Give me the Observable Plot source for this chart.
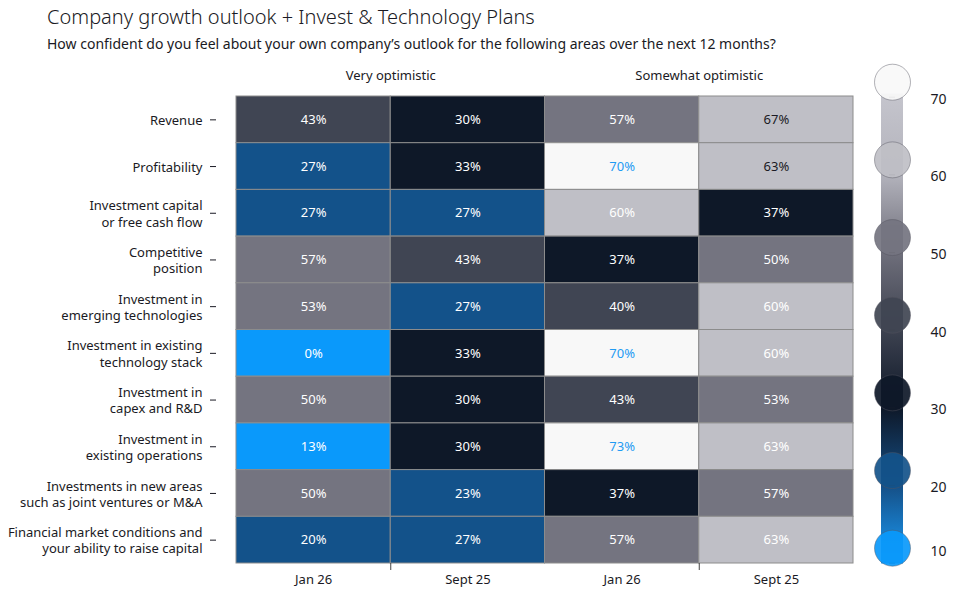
<!DOCTYPE html>
<html>
<head>
<meta charset="utf-8">
<script src="https://cdn.jsdelivr.net/npm/d3@7"></script>
<script src="https://cdn.jsdelivr.net/npm/@observablehq/plot@0.6"></script>
<style>
  html, body { margin: 0; padding: 0; background: #fff; }
  body { width: 961px; height: 593px; position: relative; overflow: hidden; font-family: "Noto Sans", sans-serif; color: #1a1a24; }
  #title { position: absolute; left: 47px; top: 3px; font-size: 20px; font-weight: 300; white-space: nowrap; }
  #subtitle { position: absolute; left: 47px; top: 34px; font-size: 14px; white-space: nowrap; }
  #chart { position: absolute; left: 0; top: 60px; width: 870px; height: 533px; }
  #legend { position: absolute; left: 860px; top: 60px; width: 101px; height: 520px; }
  #chart svg, #legend svg { display: block; max-width: none; }
</style>
</head>
<body>
<div id="title">Company growth outlook + Invest &amp; Technology Plans</div>
<div id="subtitle">How confident do you feel about your own company’s outlook for the following areas over the next 12 months?</div>
<div id="chart"></div>
<div id="legend"></div>
<script>
const categories = [
  "Revenue",
  "Profitability",
  "Investment capital\nor free cash flow",
  "Competitive\nposition",
  "Investment in\nemerging technologies",
  "Investment in existing\ntechnology stack",
  "Investment in\ncapex and R&D",
  "Investment in\nexisting operations",
  "Investments in new areas\nsuch as joint ventures or M&A",
  "Financial market conditions and\nyour ability to raise capital"
];
const groups = ["Very optimistic", "Somewhat optimistic"];
const columns = ["Jan 26", "Sept 25", "Jan 26", "Sept 25"];
const veryJan26 = [43, 27, 27, 57, 53, 0, 50, 13, 50, 20];
const verySept25 = [30, 33, 27, 43, 27, 33, 30, 30, 23, 27];
const somewhatJan26 = [57, 70, 60, 37, 40, 70, 43, 73, 37, 57];
const somewhatSept25 = [67, 63, 37, 50, 60, 60, 53, 63, 57, 63];
const legendTicks = [10, 20, 30, 40, 50, 60, 70];

const thresholds = [20, 30, 40, 50, 60, 70];
const palette = ["#0a99fb", "#13528a", "#0e1828", "#404553", "#747480", "#bfbfc6", "#f8f8f8"];

const series = [veryJan26, verySept25, somewhatJan26, somewhatSept25];
const data = [];
series.forEach((vals, c) => vals.forEach((v, i) => data.push({c, row: i, cat: categories[i], v})));

// label colour rules
const darkLabelCells = new Set(["0-3", "1-3"]);
const isBlue = d => d.v >= 70;
const isDark = d => !isBlue(d) && darkLabelCells.has(d.row + "-" + d.c);
const isWhite = d => !isBlue(d) && !isDark(d);

const font = "Noto Sans, sans-serif";

const chart = Plot.plot({
  width: 870,
  height: 533,
  marginLeft: 236,
  marginRight: 17,
  marginTop: 36,
  marginBottom: 30,
  x: {type: "linear", domain: [0, 4], axis: null, label: null},
  y: {domain: categories, padding: 0, round: false, axis: null, label: null},
  color: {type: "threshold", domain: thresholds, range: palette},
  style: {fontFamily: font, fontSize: "13px", color: "#1a1a24", background: "transparent"},
  marks: [
    Plot.barX(data, {x1: "c", x2: d => d.c + 1, y: "cat", fill: "v", stroke: "#8c8c8c", strokeWidth: 1}),
    Plot.text(data.filter(isWhite), {x: d => d.c + 0.5, y: "cat", text: d => d.v + "%", fill: "#ffffff", fontSize: 13}),
    Plot.text(data.filter(isDark), {x: d => d.c + 0.5, y: "cat", text: d => d.v + "%", fill: "#1a1a24", fontSize: 13}),
    Plot.text(data.filter(isBlue), {x: d => d.c + 0.5, y: "cat", text: d => d.v + "%", fill: "#1f9bf3", fontSize: 13}),
    Plot.axisY({anchor: "left", label: null, tickSize: 6, dx: -20, tickPadding: 8, lineHeight: 1.25, fontSize: 13, stroke: "#1a1a24"}),
    Plot.axisX([1, 3], {anchor: "bottom", label: null, tickSize: 7, tickFormat: () => "", stroke: "#444"}),
    Plot.text(columns, {x: (d, i) => i + 0.5, frameAnchor: "bottom", lineAnchor: "middle", dy: 16, text: d => d, fontSize: 13, fill: "#1a1a24"}),
    Plot.text(groups, {x: (d, i) => i * 2 + 1, frameAnchor: "top", lineAnchor: "middle", dy: -21, text: d => d, fontSize: 13, fill: "#1a1a24"})
  ]
});
document.getElementById("chart").appendChild(chart);

const legend = Plot.plot({
  width: 101,
  height: 520,
  marginLeft: 21,
  marginRight: 58,
  marginTop: 36.7,
  marginBottom: 17.3,
  x: {axis: null},
  y: {type: "linear", domain: [10, 70], axis: null},
  color: {type: "threshold", domain: thresholds, range: palette},
  style: {fontFamily: font, fontSize: "14px", color: "#1a1a24", background: "transparent", overflow: "visible"},
  marks: [
    Plot.rect([legendTicks], {y1: d => d3.min(d) - 0.1, y2: d => d3.max(d) + 0.4, fill: "url(#legendGrad)"}),
    Plot.tickY(legendTicks, {y: d => d, stroke: "#333", insetLeft: 8, insetRight: 8}),
    Plot.dot(legendTicks, {y: d => d, frameAnchor: "middle", dy: -15, r: 18, fill: d => d, stroke: "#55555f", strokeOpacity: 0.45, strokeWidth: 1, fillOpacity: 0.92}),
    Plot.text(legendTicks.slice(1), {y: d => d, frameAnchor: "right", dx: 27, dy: 2, textAnchor: "start", text: d => String(d), fontSize: 14, fill: "#1a1a24"}),
    Plot.text(legendTicks.slice(0, 1), {y: d => d, frameAnchor: "right", dx: 27, dy: -12, textAnchor: "start", text: d => String(d), fontSize: 14, fill: "#1a1a24"})
  ]
});
document.getElementById("legend").appendChild(legend);

// gradient for the legend bar
const ly = legend.scale("y");
const grad = d3.select(legend).insert("defs", ":first-child").append("linearGradient")
  .attr("id", "legendGrad").attr("gradientUnits", "userSpaceOnUse")
  .attr("x1", 0).attr("x2", 0).attr("y1", ly.apply(70)).attr("y2", ly.apply(10));
const stops = [[70, "#c4c4cc"], [60, "#b3b3bc"], [50, "#6f6f7b"], [40, "#3d4250"], [30, "#0e1828"], [20, "#154f86"], [10, "#1a9cf8"]];
stops.forEach(([v, col]) => grad.append("stop").attr("offset", (70 - v) / 60).attr("stop-color", col));
</script>
</body>
</html>
